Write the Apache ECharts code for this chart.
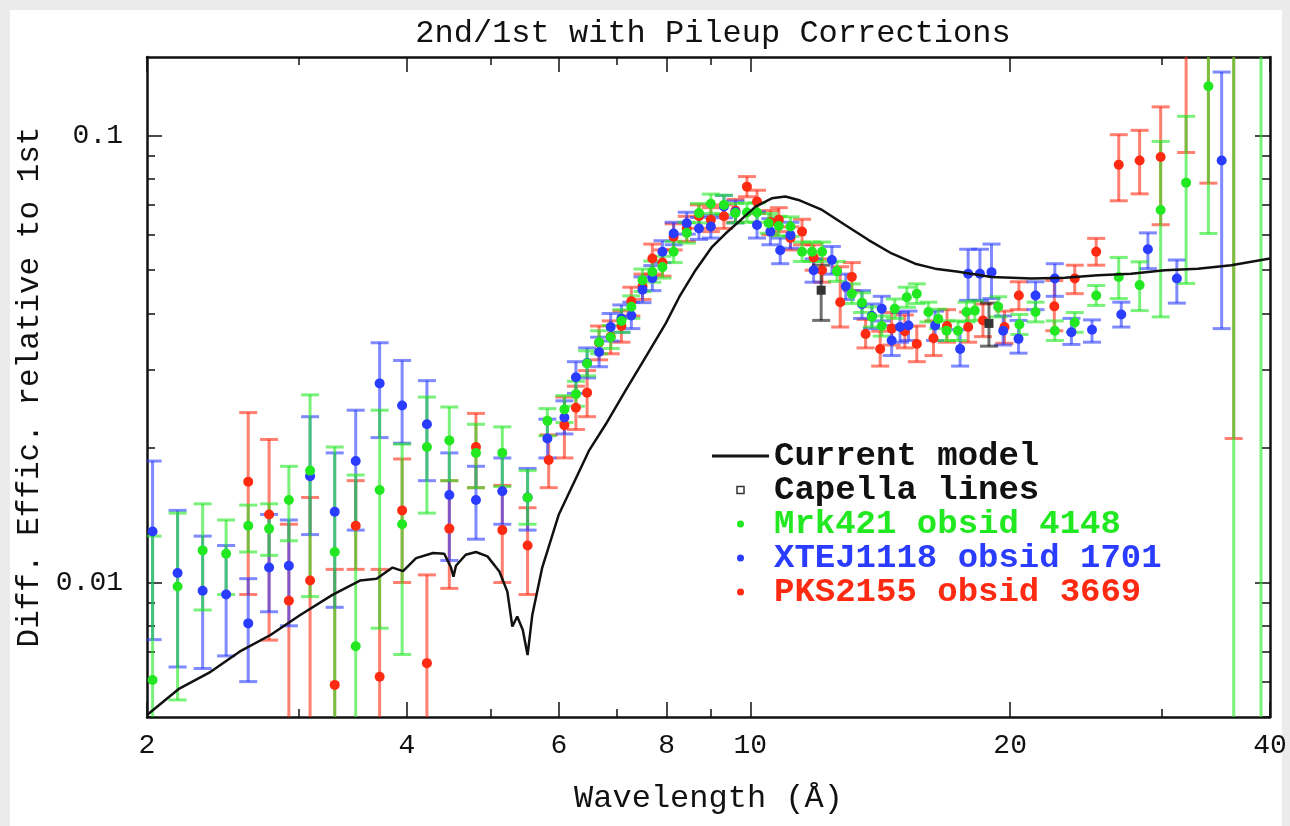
<!DOCTYPE html>
<html><head><meta charset="utf-8">
<script src="https://cdn.jsdelivr.net/npm/echarts@6/dist/echarts.min.js"></script>
<style>html,body{margin:0;padding:0;background:#ebebeb}#c{width:1290px;height:826px}</style>
</head><body><div id="c"></div><script>
// ---------- data (wavelength in Å, efficiency ratio) ----------
const xTickLabels = [2, 4, 6, 8, 10, 20, 40];
const xMinorTicks = [3, 5, 7, 9, 30];
const yTickLabels = [0.01, 0.1];
const yMinorTicks = [0.005, 0.006, 0.007, 0.008, 0.009, 0.02, 0.03, 0.04, 0.05, 0.06, 0.07, 0.08, 0.09];
const xRange = [2, 40];
const yRange = [0.005, 0.15];

const modelWave = [2.00,2.18,2.37,2.56,2.78,3.01,3.28,3.53,3.69,3.85,3.96,4.10,4.29,4.42,4.50,4.53,4.56,4.68,4.81,4.96,5.12,5.23,5.30,5.37,5.45,5.52,5.59,5.74,5.90,6.00,6.50,6.80,7.17,7.56,7.98,8.27,8.64,9.03,9.36,9.70,10.14,10.59,10.98,11.37,12.11,12.88,13.71,14.58,15.52,16.37,17.42,19.03,21.17,23.14,25.28,27.62,30.20,33.00,36.07,40.00];
const modelVal = [0.00505,0.00579,0.00631,0.0070,0.00763,0.00846,0.00938,0.0101,0.0102,0.0108,0.0106,0.01134,0.01164,0.0116,0.0108,0.0103,0.0109,0.01154,0.0117,0.01144,0.01058,0.00954,0.00797,0.00839,0.00783,0.00688,0.00846,0.0108,0.0128,0.0142,0.0197,0.0226,0.0269,0.0319,0.0380,0.0435,0.0500,0.0564,0.0604,0.0642,0.0694,0.0724,0.0731,0.0718,0.0682,0.0631,0.0584,0.0545,0.0517,0.0504,0.0496,0.0483,0.0479,0.0481,0.0487,0.0491,0.0500,0.0504,0.0513,0.0531];

const capWave = [12.08, 18.9];
const capVal  = [0.0451, 0.0380];
const capLo   = [0.0386, 0.0338];
const capHi   = [0.0513, 0.0422];

const mrkWave = [2.03,2.17,2.32,2.47,2.62,2.77,2.92,3.09,3.30,3.49,3.72,3.95,4.22,4.48,4.81,5.16,5.52,5.82,6.09,6.28,6.47,6.68,6.89,7.09,7.28,7.50,7.70,7.91,8.15,8.44,8.72,9.00,9.32,9.61,9.91,10.18,10.50,10.79,11.13,11.48,11.79,12.11,12.60,13.11,13.47,13.83,14.20,14.70,15.18,15.59,16.08,16.51,16.88,17.40,17.80,18.20,19.37,20.50,21.40,22.53,23.76,25.16,26.72,28.25,29.88,31.98,33.94,36.31,39.05];
const mrkVal  = [0.00605,0.0098,0.0118,0.0116,0.0134,0.0132,0.0153,0.0178,0.0117,0.0072,0.0161,0.0135,0.0201,0.0208,0.0195,0.0195,0.0155,0.0230,0.0244,0.0264,0.0309,0.0345,0.0354,0.0385,0.0414,0.0475,0.0496,0.0508,0.0550,0.0606,0.0671,0.0704,0.0700,0.0671,0.0673,0.0673,0.0637,0.0628,0.0626,0.0550,0.0550,0.0550,0.0497,0.0443,0.0423,0.0393,0.0375,0.0410,0.0435,0.0443,0.0403,0.0389,0.0366,0.0366,0.0403,0.0406,0.0414,0.0378,0.0403,0.0366,0.0382,0.0439,0.0483,0.0463,0.0682,0.0785,0.1290,0.0030,0.0030];
const mrkLo   = [0.0040,0.00546,0.00868,0.0094,0.0117,0.0115,0.0124,0.0093,0.0040,0.0040,0.0079,0.0069,0.0143,0.0169,0.0163,0.0164,0.0135,0.0213,0.0228,0.0248,0.0290,0.0325,0.0334,0.0363,0.0390,0.0448,0.0470,0.0480,0.0520,0.0575,0.0638,0.0670,0.0666,0.0638,0.0640,0.0640,0.0605,0.0597,0.0595,0.0523,0.0523,0.0523,0.0472,0.0421,0.0402,0.0373,0.0356,0.0390,0.0413,0.0421,0.0383,0.0370,0.0348,0.0348,0.0383,0.0386,0.0393,0.0359,0.0383,0.0348,0.0363,0.0417,0.0432,0.0406,0.0393,0.0467,0.0604,0.0010,0.0010];
const mrkHi   = [0.0127,0.0143,0.0150,0.0138,0.0149,0.0150,0.0182,0.0263,0.0201,0.0174,0.0243,0.0204,0.0260,0.0247,0.0226,0.0223,0.0178,0.0245,0.0262,0.0282,0.0330,0.0366,0.0376,0.0408,0.0438,0.0503,0.0524,0.0537,0.0580,0.0640,0.0705,0.0740,0.0736,0.0705,0.0707,0.0707,0.0670,0.0660,0.0658,0.0578,0.0578,0.0578,0.0523,0.0466,0.0445,0.0414,0.0395,0.0431,0.0458,0.0466,0.0424,0.0409,0.0385,0.0385,0.0424,0.0427,0.0436,0.0398,0.0424,0.0385,0.0402,0.0462,0.0534,0.0522,0.0971,0.1105,0.2500,0.5000,0.5000];

const xteWave = [2.03,2.17,2.32,2.47,2.62,2.77,2.92,3.09,3.30,3.49,3.72,3.95,4.22,4.48,4.81,5.16,5.52,5.82,6.09,6.28,6.47,6.68,6.89,7.09,7.28,7.50,7.70,7.91,8.15,8.44,8.72,9.00,9.32,9.61,10.18,10.55,10.83,11.13,11.84,12.43,12.90,13.47,13.83,14.20,14.58,14.91,15.25,16.37,17.50,17.88,18.45,19.03,19.63,20.45,21.40,22.53,23.55,24.88,26.90,28.88,31.20,35.16];
const xteVal  = [0.0130,0.0105,0.00958,0.0094,0.0081,0.0108,0.0109,0.0173,0.0144,0.0187,0.0279,0.0249,0.0226,0.0157,0.0153,0.0160,0.0155,0.0210,0.0234,0.0288,0.0310,0.0328,0.0373,0.0390,0.0396,0.0452,0.0480,0.0550,0.0604,0.0637,0.0620,0.0626,0.0694,0.0675,0.0631,0.0610,0.0554,0.0599,0.0500,0.0527,0.0460,0.0420,0.0395,0.0410,0.0348,0.0373,0.0376,0.0376,0.0333,0.0491,0.0491,0.0495,0.0366,0.0351,0.0439,0.0479,0.0363,0.0368,0.0398,0.0557,0.0479,0.0880];
const xteLo   = [0.00745,0.00647,0.00642,0.00685,0.0060,0.0086,0.0080,0.0128,0.0088,0.0131,0.0211,0.0205,0.0169,0.0112,0.0125,0.0135,0.0131,0.0190,0.0215,0.0265,0.0287,0.0304,0.0347,0.0363,0.0370,0.0423,0.0450,0.0520,0.0570,0.0602,0.0586,0.0590,0.0655,0.0638,0.0590,0.0570,0.0517,0.0560,0.0470,0.0490,0.0430,0.0390,0.0370,0.0385,0.0322,0.0345,0.0348,0.0348,0.0305,0.0428,0.0428,0.0432,0.0340,0.0326,0.0408,0.0437,0.0341,0.0345,0.0373,0.0504,0.0422,0.0370];
const xteHi   = [0.0187,0.0145,0.0127,0.0121,0.0102,0.0142,0.0138,0.0235,0.0195,0.0243,0.0344,0.0314,0.0283,0.0195,0.0182,0.0190,0.0180,0.0232,0.0255,0.0312,0.0335,0.0354,0.0400,0.0418,0.0424,0.0483,0.0512,0.0582,0.0640,0.0674,0.0656,0.0663,0.0735,0.0714,0.0675,0.0652,0.0590,0.0640,0.0530,0.0565,0.0490,0.0450,0.0420,0.0437,0.0376,0.0402,0.0405,0.0405,0.0368,0.0557,0.0557,0.0572,0.0395,0.0386,0.0471,0.0517,0.0390,0.0387,0.0424,0.0606,0.0527,0.1388];

const pksWave = [2.62,2.77,2.92,3.09,3.30,3.49,3.72,3.95,4.22,4.48,4.81,5.16,5.52,5.84,6.09,6.28,6.47,6.68,6.89,7.09,7.28,7.50,7.70,7.91,8.15,8.44,8.72,9.00,9.32,9.61,9.91,10.18,10.55,10.79,11.13,11.48,11.84,12.11,12.71,13.11,13.60,14.14,14.58,15.10,15.59,16.30,16.90,17.88,18.60,19.70,20.47,22.50,23.76,25.16,26.72,28.25,29.88,31.98,33.94,36.31];
const pksVal  = [0.0168,0.0142,0.0091,0.0101,0.0059,0.0134,0.00615,0.0145,0.0066,0.0132,0.0201,0.0131,0.0121,0.0188,0.0225,0.0246,0.0266,0.0344,0.0355,0.0375,0.0426,0.0460,0.0531,0.0520,0.0594,0.0620,0.0660,0.0648,0.0660,0.0680,0.0769,0.0712,0.0640,0.0648,0.0590,0.0610,0.0534,0.0500,0.0424,0.0483,0.0360,0.0333,0.0370,0.0365,0.0342,0.0352,0.0375,0.0373,0.0386,0.0373,0.0439,0.0415,0.0479,0.0550,0.0861,0.0880,0.0896,0.2000,0.2000,0.2000];
const pksLo   = [0.0094,0.00743,0.0040,0.0040,0.0040,0.0107,0.0040,0.0100,0.0040,0.0097,0.0163,0.0100,0.0094,0.0163,0.0190,0.0220,0.0235,0.0315,0.0325,0.0345,0.0395,0.0430,0.0490,0.0485,0.0555,0.0580,0.0620,0.0610,0.0620,0.0640,0.0730,0.0670,0.0600,0.0610,0.0555,0.0570,0.0500,0.0470,0.0373,0.0450,0.0335,0.0305,0.0340,0.0335,0.0312,0.0322,0.0345,0.0345,0.0355,0.0343,0.0408,0.0366,0.0443,0.0513,0.0715,0.0741,0.0632,0.0917,0.0783,0.0210];
const pksHi   = [0.0240,0.0209,0.0135,0.0155,0.0107,0.0169,0.0107,0.0189,0.0104,0.0169,0.0239,0.0165,0.0147,0.0214,0.0260,0.0275,0.0298,0.0375,0.0385,0.0405,0.0458,0.0490,0.0572,0.0555,0.0635,0.0660,0.0700,0.0690,0.0700,0.0720,0.0810,0.0755,0.0680,0.0690,0.0625,0.0650,0.0570,0.0530,0.0509,0.0520,0.0388,0.0365,0.0402,0.0397,0.0375,0.0385,0.0408,0.0403,0.0420,0.0405,0.0471,0.0474,0.0513,0.0589,0.1005,0.1028,0.1160,0.5000,0.5000,0.5000];

// ---------- styling ----------
const GREEN = '#22e822', BLUE = '#2a3cff', RED = '#ff2a12', BLACK = '#111111';
const FONT = '"Liberation Mono", "DejaVu Sans Mono", monospace';
const L = Math.log10;

function pts(w, v) { return w.map((x, i) => [L(x), L(v[i])]); }
function errs(w, v, lo, hi) { return w.map((x, i) => [L(x), L(v[i]), L(lo[i]), L(hi[i])]); }

function alpha(hex, a) {
  const n = parseInt(hex.slice(1), 16);
  return `rgba(${(n >> 16) & 255},${(n >> 8) & 255},${n & 255},${a})`;
}

function errSeries(name, color, data) {
  const stroke = alpha(color, 0.6);
  return {
    type: 'custom', name: name, data: data, silent: true, clip: true,
    encode: { x: 0, y: 1 },
    renderItem(params, api) {
      const cs = params.coordSys;
      const x = api.value(0);
      const pLo = api.coord([x, api.value(2)]);
      const pHi = api.coord([x, api.value(3)]);
      const top = cs.y, bot = cs.y + cs.height;
      const cx = pLo[0];
      if (cx < cs.x - 1 || cx > cs.x + cs.width + 1) return null;
      const y1 = Math.max(top, Math.min(bot, pHi[1]));
      const y2 = Math.max(top, Math.min(bot, pLo[1]));
      const hw = 9;
      const st = { stroke: stroke, lineWidth: 3, fill: null };
      const ch = [{ type: 'line', shape: { x1: cx, y1: y1, x2: cx, y2: y2 }, style: st }];
      [pHi[1], pLo[1]].forEach(yy => {
        if (yy >= top && yy <= bot) ch.push({ type: 'line', shape: { x1: cx - hw, y1: yy, x2: cx + hw, y2: yy }, style: st });
      });
      return { type: 'group', children: ch };
    }
  };
}
function ptSeries(name, color, data, symbol, size) {
  return {
    type: 'scatter', name: name, data: data, symbol: symbol || 'circle', symbolSize: size || 10,
    itemStyle: { color: color, opacity: 1 }, clip: true, silent: true
  };
}

const lx = xRange.map(L), ly = yRange.map(L);
const tickStyle = { color: BLACK, width: 1.5 };
function xAxisDef(pos, major, showLabel) {
  return {
    type: 'value', position: pos, min: lx[0], max: lx[1], splitLine: { show: false },
    axisLine: { show: major, onZero: false, lineStyle: { color: BLACK, width: 2.5 } },
    axisTick: { show: true, inside: true, length: major ? 15 : 8, lineStyle: tickStyle,
      customValues: (major ? xTickLabels : xMinorTicks).map(L) },
    axisLabel: { show: showLabel, customValues: xTickLabels.map(L), margin: 15,
      formatter: v => String(+Math.pow(10, v).toPrecision(6)),
      fontFamily: FONT, fontSize: 28, color: BLACK },
    name: showLabel ? 'Wavelength (Å)' : '', nameLocation: 'middle', nameGap: 66,
    nameTextStyle: { fontFamily: FONT, fontSize: 32, color: BLACK }
  };
}
function yAxisDef(pos, major, showLabel) {
  return {
    type: 'value', position: pos, min: ly[0], max: ly[1], splitLine: { show: false },
    axisLine: { show: major, onZero: false, lineStyle: { color: BLACK, width: 2.5 } },
    axisTick: { show: true, inside: true, length: major ? 15 : 8, lineStyle: tickStyle,
      customValues: (major ? yTickLabels : yMinorTicks).map(L) },
    axisLabel: { show: showLabel, customValues: yTickLabels.map(L), margin: 24,
      formatter: v => String(+Math.pow(10, v).toPrecision(6)),
      fontFamily: FONT, fontSize: 28, color: BLACK },
    name: showLabel ? 'Diff. Effic. relative to 1st' : '', nameLocation: 'middle', nameGap: 102,
    nameTextStyle: { fontFamily: FONT, fontSize: 31, color: BLACK }
  };
}

const chart = echarts.init(document.getElementById('c'), null, { renderer: 'canvas' });
chart.setOption({
  backgroundColor: '#ebebeb',
  animation: false,
  graphic: [{ type: 'rect', left: 10, top: 10, shape: { width: 1272, height: 816 }, style: { fill: '#ffffff' }, z: -10, silent: true }],
  title: {
    text: '2nd/1st with Pileup Corrections', left: 708, top: 13, textAlign: 'center',
    textStyle: { fontFamily: FONT, fontSize: 32, fontWeight: 'normal', color: BLACK }
  },
  grid: { left: 147, right: 20, top: 57, bottom: 109, containLabel: false },
  xAxis: [xAxisDef('bottom', true, true), xAxisDef('bottom', false, false), xAxisDef('top', true, false), xAxisDef('top', false, false)],
  yAxis: [yAxisDef('left', true, true), yAxisDef('left', false, false), yAxisDef('right', true, false), yAxisDef('right', false, false)],
  legend: {
    orient: 'vertical', left: 707, top: 434, itemWidth: 57, itemHeight: 7, itemGap: 0, itemTextGap: 14,
    selectedMode: false, symbolKeepAspect: true,
    textStyle: { fontFamily: FONT, fontSize: 34, fontWeight: 'bold', lineHeight: 31 },
    data: [
      { name: 'Current model', icon: 'path://M0 0h60v3h-60z', itemStyle: { color: BLACK, borderWidth: 0 }, textStyle: { color: BLACK } },
      { name: 'Capella lines', icon: 'path://M0 0h10v10h-10z', itemStyle: { color: '#ffffff', borderColor: '#333', borderWidth: 1.5 }, textStyle: { color: BLACK } },
      { name: 'Mrk421 obsid 4148', icon: 'circle', textStyle: { color: GREEN } },
      { name: 'XTEJ1118 obsid 1701', icon: 'circle', textStyle: { color: BLUE } },
      { name: 'PKS2155 obsid 3669', icon: 'circle', textStyle: { color: RED } }
    ]
  },
  series: [
    { type: 'line', name: 'Current model', data: pts(modelWave, modelVal), showSymbol: false, symbol: 'none',
      lineStyle: { color: BLACK, width: 2.5 }, itemStyle: { color: BLACK }, clip: true, silent: true },
    errSeries('pks-err', RED, errs(pksWave, pksVal, pksLo, pksHi)),
    ptSeries('PKS2155 obsid 3669', RED, pts(pksWave, pksVal)),
    errSeries('xte-err', BLUE, errs(xteWave, xteVal, xteLo, xteHi)),
    ptSeries('XTEJ1118 obsid 1701', BLUE, pts(xteWave, xteVal)),
    errSeries('mrk-err', GREEN, errs(mrkWave, mrkVal, mrkLo, mrkHi)),
    ptSeries('Mrk421 obsid 4148', GREEN, pts(mrkWave, mrkVal)),
    errSeries('cap-err', BLACK, errs(capWave, capVal, capLo, capHi)),
    ptSeries('Capella lines', '#333333', pts(capWave, capVal), 'rect', 9)
  ]
});
</script></body></html>
